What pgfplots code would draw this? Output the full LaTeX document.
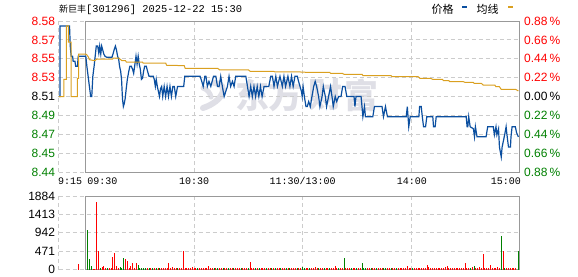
\documentclass[border=0pt]{standalone}
\usepackage{fontspec}
\setmainfont{Liberation Sans}
\newfontfamily\cjk{Noto Sans CJK SC}
\newfontfamily\mono{Liberation Mono}
\usepackage{pgfplots}
\pgfplotsset{compat=1.18}
\definecolor{priceblue}{HTML}{0B4FA0}
\definecolor{avggold}{HTML}{DAA020}
\definecolor{upred}{HTML}{FF0000}
\definecolor{dngreen}{HTML}{008000}
\definecolor{gridgray}{HTML}{CCCCCC}
\definecolor{framegray}{HTML}{999999}
\definecolor{wm}{HTML}{DFDFE6}
\newcommand{\rd}[1]{\textcolor{upred}{#1}}
\newcommand{\gn}[1]{\textcolor{dngreen}{#1}}
\begin{document}
\begin{tikzpicture}[x=1pt,y=1pt]
\useasboundingbox (0,0) rectangle (578,-276);
% watermark
\draw[wm, line width=6pt, line cap=round] (214,-83) .. controls (230,-84) and (224,-101) .. (203,-108);
\draw[wm, line width=5pt, line cap=round] (203,-88) .. controls (208,-90) and (210,-93) .. (211,-97);
\begin{scope}[every node/.style={font=\cjk\bfseries\fontsize{34}{34}\selectfont, text=wm, inner sep=0pt}]
\node at (252,-95) {东};
\node at (285,-95) {方};
\node at (325,-95) {财};
\node at (361,-95) {富};
\end{scope}
% title
\node[anchor=west, inner sep=0pt] at (59,-9.5) {{\cjk\fontsize{9}{9}\selectfont 新巨丰}{\mono\fontsize{10.4}{10.4}\selectfont[301296] 2025-12-22 15:30}};
% legend
\node[anchor=west, inner sep=0pt, font=\cjk\fontsize{11}{11}\selectfont] at (431.5,-9.5) {价格};
\fill[priceblue] (462,-6) rectangle (467,-8.4);
\node[anchor=west, inner sep=0pt, font=\cjk\fontsize{11}{11}\selectfont] at (476.5,-9.5) {均线};
\fill[avggold] (508,-6) rectangle (513,-8.4);

\pgfplotsset{
  panel/.style={
    scale only axis, width=460.6pt, xmin=-15, xmax=240,
    axis line style={draw=none}, major tick length=0pt,
    xtick={-15,60,120,180}, xticklabels={},
    grid=major, grid style={gridgray, dash pattern=on 4pt off 3pt, line width=0.8pt},
    yticklabel style={font=\fontsize{12}{12}\selectfont, anchor=east, inner sep=0pt, xshift=-3.5pt},
    clip=false,
  }
}

% ---------- price panel ----------
\begin{axis}[panel,
  at={(58.7pt,-172pt)}, anchor=south west, height=151pt,
  ymin=8.435112, ymax=8.584888,
  ytick={8.435112,8.453834,8.472556,8.491278,8.51,8.528722,8.547444,8.566166,8.584888},
  yticklabels={\gn{8.44},\gn{8.45},\gn{8.47},\gn{8.49},8.51,\rd{8.53},\rd{8.55},\rd{8.57},\rd{8.58}},
]
\draw[framegray, line width=1pt] (axis cs:0,8.435112) rectangle (axis cs:240,8.584888);
% price (价格)
\addplot[priceblue, line width=1.2pt]
coordinates {
(-15,8.51)(-14.3,8.51)(-14.3,8.58)(-9.0,8.58)(-8.6,8.56)(-8.1,8.55)(-7.3,8.55)(-7.0,8.545)(-6.0,8.545)(-5.6,8.54)(-4.6,8.54)(-4.2,8.55)(0,8.55)
(0.6,8.54)(1.3,8.53)(2,8.52)(2.7,8.51)(3.3,8.51)(3.9,8.53)(4.6,8.54)(5.2,8.55)(5.8,8.56)(6.6,8.56)(7.2,8.553)(7.7,8.56)(8.3,8.552)(8.8,8.56)(9.4,8.556)(10,8.552)(10.6,8.55)(11.5,8.549)(14.5,8.549)(15.2,8.553)(15.8,8.557)(16.4,8.56)(17,8.556)(17.6,8.55)(18.2,8.547)(18.7,8.54)(19.3,8.535)(19.8,8.527)(20.3,8.508)(20.8,8.50)(21.3,8.503)(21.8,8.508)(22.4,8.518)(23,8.527)(23.8,8.535)(24.4,8.54)(25.2,8.54)(25.9,8.537)(26.5,8.533)(27.2,8.542)(27.8,8.55)(28.4,8.542)(29,8.55)(29.6,8.542)(30.2,8.537)(30.8,8.527)(31.4,8.528)(32,8.535)(32.6,8.54)(33.5,8.54)(34.2,8.535)(35,8.53)(37.4,8.53)(37.9,8.527)(38.5,8.52)(39,8.527)(39.6,8.52)(40.2,8.515)(40.8,8.51)(41.4,8.518)(42,8.52)(42.6,8.51)(43.4,8.52)(44.2,8.51)(45,8.52)(45.8,8.51)(46.6,8.52)(47.4,8.51)(48.2,8.52)(49,8.52)(49.8,8.51)(50.8,8.52)(54.2,8.52)(54.8,8.53)(63.3,8.53)(64.2,8.525)(65,8.52)(65.9,8.53)(66.5,8.53)(67.3,8.52)(68.2,8.525)(69.2,8.52)(70.7,8.53)(72,8.53)(72.9,8.52)(73.8,8.52)(74.7,8.53)(75.6,8.52)(76.6,8.51)(77.5,8.515)(78.4,8.52)(79.3,8.53)(80.2,8.52)(81.2,8.525)(82.1,8.52)(83,8.53)(88.6,8.53)(89.5,8.52)(90.4,8.51)(91.3,8.52)(92.2,8.51)(93.1,8.52)(94,8.51)(94.9,8.52)(95.8,8.51)(96.7,8.52)(97.6,8.51)(98.7,8.52)(101.3,8.52)(102.4,8.53)(103.3,8.53)(104.2,8.52)(105.2,8.53)(106.1,8.52)(107.5,8.53)(108.8,8.52)(109.7,8.53)(110.6,8.52)(111.9,8.53)(113,8.52)(113.9,8.53)(114.8,8.52)(115.8,8.53)(117.1,8.53)(117.8,8.525)(118.6,8.52)(119.4,8.515)(119.8,8.51)(120.3,8.52)(121,8.51)(121.9,8.50)(122.6,8.50)(123.4,8.505)(124.3,8.50)(125.2,8.51)(126.2,8.52)(127,8.525)(127.8,8.52)(128.9,8.51)(129.6,8.50)(130.8,8.51)(131.5,8.52)(132.6,8.51)(133.3,8.50)(134.4,8.51)(135.5,8.52)(136.3,8.51)(137,8.50)(138.1,8.51)(138.9,8.505)(140,8.51)(141.3,8.51)(142.2,8.52)(143.5,8.52)(144.5,8.51)(148.5,8.51)(149,8.50)(149.6,8.51)(152.4,8.51)(153.4,8.49)(154.3,8.50)(154.8,8.49)(158.9,8.49)(159.8,8.50)(164,8.50)(164.8,8.49)(165.9,8.50)(167,8.49)(177.4,8.49)(178,8.50)(178.8,8.48)(179.6,8.49)(184.4,8.49)(184.8,8.50)(185.7,8.50)(186.3,8.49)(187,8.48)(188.1,8.48)(188.8,8.49)(192.1,8.49)(192.5,8.48)(193.4,8.48)(194,8.49)(210.6,8.49)(211.1,8.48)(211.5,8.48)(212,8.49)(212.8,8.48)(214.6,8.478)(215.2,8.47)(215.7,8.48)(216.6,8.47)(221.6,8.47)(222.5,8.48)(225.6,8.48)(226.2,8.472)(227.1,8.48)(227.6,8.472)(228.5,8.478)(229,8.46)(230,8.45)(230.5,8.46)(231.2,8.466)(232,8.473)(232.7,8.48)(233.1,8.473)(234,8.46)(235.1,8.46)(235.4,8.47)(236,8.48)(237.8,8.48)(238.5,8.474)(239.5,8.47)
};
% average (均线)
\addplot[avggold, line width=1pt]
coordinates {
(-15,8.51)(-12.1,8.51)(-12.1,8.527)(-10.8,8.527)(-10.8,8.58)(-9.6,8.58)(-9.6,8.564)(-8.1,8.564)(-8.1,8.51)(-4.7,8.51)(-4.7,8.528)(-4.0,8.528)(-4.0,8.552)(0,8.552)
(0.5,8.5515)(1.5,8.549)(2,8.5465)(5,8.5455)(6,8.547)(14.8,8.547)(15.2,8.548)(18.5,8.548)(19,8.547)(20,8.5455)(22,8.5455)(22.5,8.544)(31.4,8.544)(31.8,8.543)(44.3,8.543)(44.7,8.541)(54.5,8.5406)(55,8.538)(73,8.538)(74,8.5365)(90,8.5365)(91,8.535)(104,8.535)(104.5,8.5345)(117,8.5345)(122,8.534)(135,8.534)(135.5,8.533)(142,8.533)(143,8.532)(153,8.532)(153.5,8.5306)(169,8.5306)(169.5,8.5297)(184,8.5297)(185,8.528)(191,8.528)(192,8.527)(197.5,8.527)(198,8.5257)(201,8.5257)(201.5,8.5247)(209,8.5247)(210,8.524)(214.5,8.524)(215,8.523)(219,8.523)(220,8.5214)(226.5,8.5214)(227,8.5197)(229,8.5197)(230,8.517)(238,8.517)(239.5,8.5155)
};
% x labels
\begin{scope}[every node/.style={font=\mono\fontsize{10}{10}\selectfont, inner sep=0pt}]
\node[anchor=west] at (axis cs:-15,8.435112) [yshift=-9pt, xshift=-0.7pt] {9:15};
\node[anchor=west] at (axis cs:0,8.435112) [yshift=-9pt, xshift=1.3pt] {09:30};
\node at (axis cs:60,8.435112) [yshift=-9pt] {10:30};
\node at (axis cs:120,8.435112) [yshift=-9pt] {11:30/13:00};
\node at (axis cs:180,8.435112) [yshift=-9pt, xshift=1pt] {14:00};
\node[anchor=east] at (axis cs:240,8.435112) [yshift=-9pt, xshift=1.7pt] {15:00};
\end{scope}
\end{axis}

% ---------- percent axis ----------
\begin{axis}[
  at={(58.7pt,-172pt)}, anchor=south west, height=151pt,
  scale only axis, width=460.6pt, xmin=-15, xmax=240,
  ymin=-0.88, ymax=0.88, hide x axis, axis y line*=right,
  axis line style={draw=none}, major tick length=0pt,
  ytick={-0.88,-0.66,-0.44,-0.22,0,0.22,0.44,0.66,0.88},
  yticklabels={\gn{0.88\,\%},\gn{0.66\,\%},\gn{0.44\,\%},\gn{0.22\,\%},0.00\,\%,\rd{0.22\,\%},\rd{0.44\,\%},\rd{0.66\,\%},\rd{0.88\,\%}},
  yticklabel style={font=\fontsize{12}{12}\selectfont, anchor=west, inner sep=0pt, xshift=4.7pt},
]
\addplot[draw=none] coordinates {(0,0)};
\end{axis}

% ---------- volume panel ----------
\begin{axis}[panel,
  at={(58.7pt,-269.5pt)}, anchor=south west, height=73.5pt,
  ymin=0, ymax=1884,
  ytick={0,471,942,1413,1884},
  yticklabels={0,471,942,1413,1884},
]
\draw[framegray, line width=1pt] (axis cs:0,0) rectangle (axis cs:240,1884);
\addplot[ycomb, upred, line width=1pt] coordinates {
(-4.1,141)(4,25)(5,25)(6,1730)(7,474)(9,72)(10,98)(11,30)(13,30)(14,30)(15,320)(16,423)(17,98)(18,30)(22,269)(23,210)(24,30)(25,98)(26,167)(27,30)(28,175)(34,40)(36,30)(38,30)(40,30)(42,30)(43,30)(44,30)(45,30)(46,167)(47,30)(48,72)(49,30)(50,30)(52,30)(53,30)(54,483)(55,30)(56,30)(57,30)(58,30)(59,60)(60,30)(61,30)(63,30)(64,30)(65,30)(66,30)(67,30)(68,98)(69,30)(70,30)(72,30)(74,30)(75,30)(77,30)(78,30)(80,30)(81,30)(83,30)(84,30)(85,30)(87,30)(88,30)(89,30)(91,200)(92,50)(93,30)(95,30)(97,30)(98,30)(99,30)(101,30)(102,30)(104,30)(106,30)(107,30)(109,30)(110,30)(112,30)(114,30)(115,30)(116,30)(118,30)(119,30)(122,30)(123,30)(125,30)(126,30)(127,60)(128,30)(130,30)(131,30)(133,30)(134,30)(136,30)(137,30)(138,98)(139,30)(141,30)(142,30)(144,30)(145,30)(146,30)(148,30)(149,30)(151,30)(152,30)(156,30)(157,30)(159,30)(160,30)(162,30)(163,30)(164,30)(167,30)(168,30)(170,30)(171,30)(173,30)(174,30)(175,30)(176,30)(177,30)(178,100)(179,30)(180,30)(182,30)(183,30)(184,30)(185,30)(186,30)(187,30)(188,30)(189,115)(190,60)(191,35)(192,30)(193,30)(194,30)(195,35)(196,30)(197,30)(198,50)(199,75)(200,98)(201,30)(202,35)(203,30)(204,30)(205,30)(206,30)(207,30)(208,30)(209,40)(210,175)(211,30)(212,40)(214,72)(216,30)(217,30)(218,60)(219,30)(220,405)(221,30)(222,30)(223,30)(224,115)(225,30)(226,30)(227,30)(228,60)(229,30)(231.5,474)(233,30)(234,30)(235,30)(236,30)(237,30)(238,30)
};
\addplot[ycomb, dngreen, line width=1pt] coordinates {
(1,1000)(2,269)(3,90)(8,30)(12,40)(19,60)(20,40)(21,295)(29,115)(30,50)(31,45)(32,40)(33,50)(35,30)(37,30)(39,30)(41,30)(51,30)(62,30)(71,30)(73,30)(76,30)(79,30)(82,30)(86,30)(90,30)(94,30)(96,30)(100,30)(103,30)(105,30)(108,30)(111,30)(113,30)(117,30)(120,70)(121,30)(124,30)(129,30)(132,30)(135,30)(140,30)(143,303)(147,30)(150,30)(153,175)(154,40)(155,30)(158,30)(161,30)(165,50)(166,30)(169,50)(172,30)(181,30)(213,40)(215,98)(230,859)(232,30)(239.6,474)
};
\end{axis}
\end{tikzpicture}
\end{document}
